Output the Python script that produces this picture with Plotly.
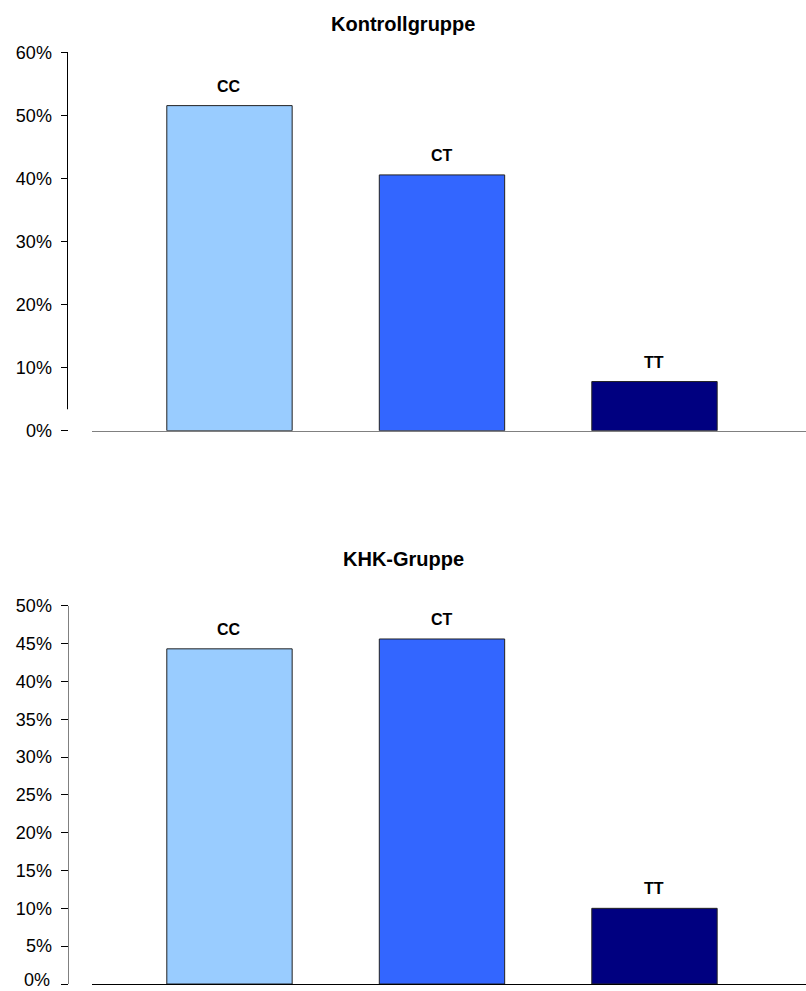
import plotly.graph_objects as go

categories = ["CC", "CT", "TT"]
kontroll_values = [0.516, 0.406, 0.078]
khk_values = [0.443, 0.456, 0.100]
bar_colors = ["#99CCFF", "#3366FF", "#000080"]
top_ticks = [0, 0.1, 0.2, 0.3, 0.4, 0.5, 0.6]
bottom_ticks = [0, 0.05, 0.10, 0.15, 0.20, 0.25, 0.30, 0.35, 0.40, 0.45, 0.50]
titles = ["Kontrollgruppe", "KHK-Gruppe"]

W, H = 806, 991
FONT = "Liberation Sans, Arial, sans-serif"


def py(pix):
    return (H - pix) / H


def px(pix):
    return pix / W


fig = go.Figure()

fig.add_trace(go.Bar(
    x=categories, y=kontroll_values, xaxis="x", yaxis="y",
    marker=dict(color=bar_colors, line=dict(color="#222222", width=1)),
    width=0.59, showlegend=False, hoverinfo="skip"))
fig.add_trace(go.Bar(
    x=categories, y=khk_values, xaxis="x2", yaxis="y2",
    marker=dict(color=bar_colors, line=dict(color="#222222", width=1)),
    width=0.59, showlegend=False, hoverinfo="skip"))

xrange = [-0.647, 2.713]
ypos = px(67.5)

common_x = dict(domain=[px(92), 1], range=xrange, showticklabels=False, ticks="",
                showgrid=False, zeroline=False, showline=True, linewidth=1,
                fixedrange=True, automargin=False)
common_y = dict(anchor="free", position=ypos, tickformat=".0%", showgrid=False,
                zeroline=False, ticks="outside", ticklen=7, tickcolor="black",
                tickwidth=1, tickfont=dict(family=FONT, size=18, color="black"),
                ticklabelstandoff=5, fixedrange=True, automargin=False)

fig.update_layout(
    width=W, height=H,
    margin=dict(l=0, r=0, t=0, b=0),
    paper_bgcolor="white", plot_bgcolor="white",
    xaxis=dict(anchor="y", linecolor="#808080", **common_x),
    xaxis2=dict(anchor="y2", linecolor="black", **common_x),
    yaxis=dict(domain=[py(430.7), py(52.7)], range=[0, 0.6], tickvals=top_ticks,
               showline=False, **common_y),
    yaxis2=dict(domain=[py(984), py(605.7)], range=[0, 0.5], tickvals=bottom_ticks,
                showline=True, linecolor="#808080", linewidth=1, **common_y),
    bargap=0.41,
)

# top y-axis line (ends slightly above the baseline, as in the original)
fig.add_shape(type="line", xref="paper", yref="y", x0=ypos, x1=ypos,
              y0=0.034, y1=0.6, line=dict(color="black", width=1))

# bottom "0%" tick label (nudged up so it stays on the page)
fig.add_annotation(x=px(52), y=bottom_ticks[0], xref="paper", yref="y2",
                   text="0%", showarrow=False, xanchor="right", yanchor="middle",
                   yshift=4, font=dict(family=FONT, size=18, color="black"))

# bar labels
for xa, ya, vals in (("x", "y", kontroll_values), ("x2", "y2", khk_values)):
    for c, v in zip(categories, vals):
        fig.add_annotation(x=c, y=v, xref=xa, yref=ya, text="<b>%s</b>" % c,
                           showarrow=False, yanchor="bottom", yshift=9,
                           font=dict(family=FONT, size=16, color="black"))

# titles
for t, ycen in zip(titles, (24, 559)):
    fig.add_annotation(x=0.5, y=py(ycen), xref="paper", yref="paper",
                       text="<b>%s</b>" % t, showarrow=False,
                       xanchor="center", yanchor="middle",
                       font=dict(family=FONT, size=20, color="black"))

fig.write_html("out.html")
